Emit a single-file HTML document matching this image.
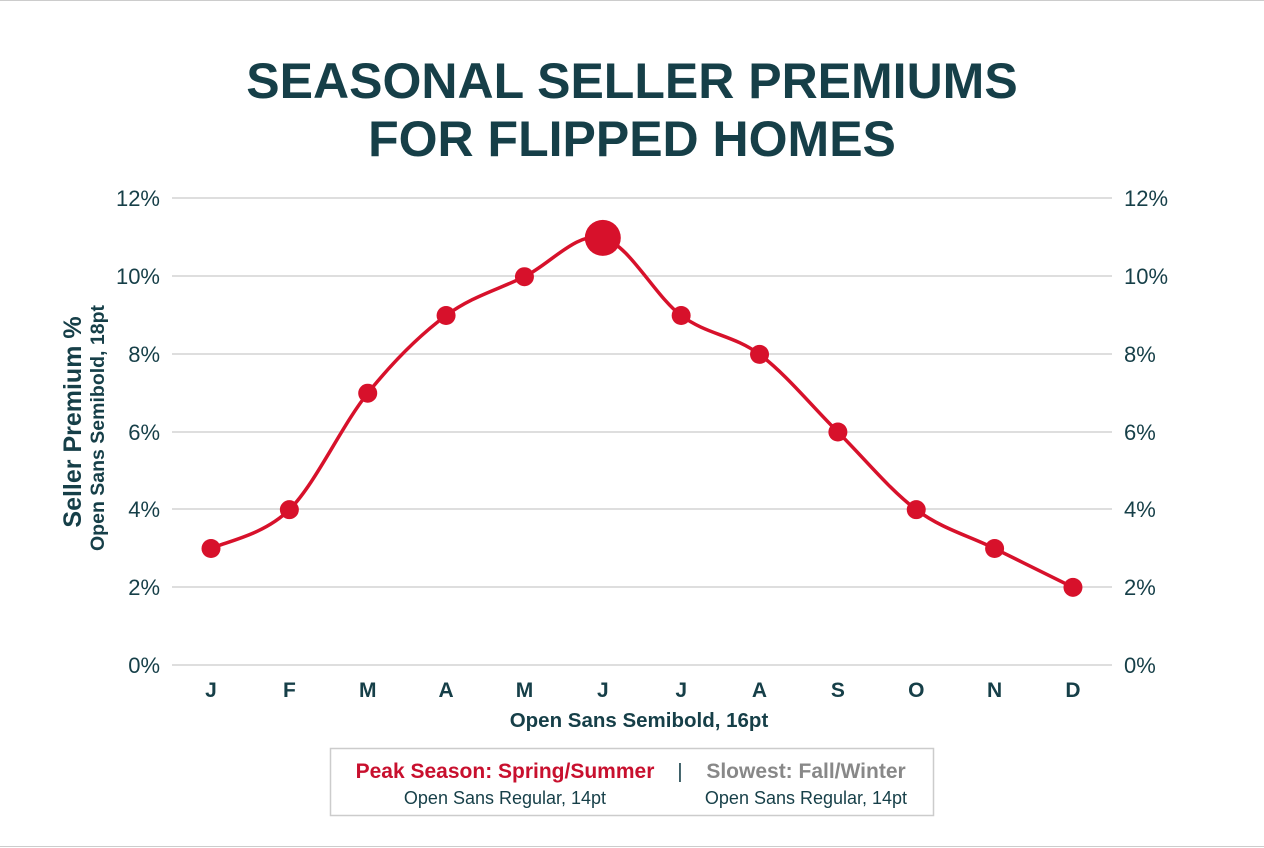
<!DOCTYPE html>
<html><head><meta charset="utf-8"><style>
html,body{margin:0;padding:0;background:#fff;}
svg{display:block;font-family:"Liberation Sans",sans-serif;}
</style></head><body>
<svg id="s" width="1264" height="848" viewBox="0 0 1264 848">
<rect x="0" y="0" width="1264" height="848" fill="#fff"/>
<line x1="0" y1="0.5" x2="1264" y2="0.5" stroke="#ccc"/>
<line x1="0" y1="846.5" x2="1264" y2="846.5" stroke="#ccc"/>
<g fill="#163f48" font-weight="bold" font-size="50" text-anchor="middle">
<text x="632" y="98">SEASONAL SELLER PREMIUMS</text>
<text x="632" y="156">FOR FLIPPED HOMES</text>
</g>
<g stroke="#d3d3d3" stroke-width="1.5">
<line x1="172" y1="198" x2="1112" y2="198"/>
<line x1="172" y1="276" x2="1112" y2="276"/>
<line x1="172" y1="354" x2="1112" y2="354"/>
<line x1="172" y1="432" x2="1112" y2="432"/>
<line x1="172" y1="509" x2="1112" y2="509"/>
<line x1="172" y1="587" x2="1112" y2="587"/>
<line x1="172" y1="665" x2="1112" y2="665"/>
</g>
<g fill="#163f48" font-size="22">
<g text-anchor="end">
<text x="160" y="206">12%</text><text x="160" y="284">10%</text><text x="160" y="362">8%</text>
<text x="160" y="440">6%</text><text x="160" y="517">4%</text><text x="160" y="595">2%</text><text x="160" y="673">0%</text>
</g>
<g text-anchor="start">
<text x="1124" y="206">12%</text><text x="1124" y="284">10%</text><text x="1124" y="362">8%</text>
<text x="1124" y="440">6%</text><text x="1124" y="517">4%</text><text x="1124" y="595">2%</text><text x="1124" y="673">0%</text>
</g>
</g>
<g fill="#163f48" font-weight="bold" font-size="21" text-anchor="middle" id="months"></g>
<text x="639" y="727" fill="#163f48" font-weight="bold" font-size="20.5" text-anchor="middle">Open Sans Semibold, 16pt</text>
<text transform="translate(81,422) rotate(-90)" fill="#163f48" font-weight="bold" font-size="25" text-anchor="middle">Seller Premium %</text>
<text transform="translate(104,428) rotate(-90)" fill="#163f48" font-weight="bold" font-size="19.5" text-anchor="middle">Open Sans Semibold, 18pt</text>
<path id="curve" fill="none" stroke="#d7112b" stroke-width="3.5"/>
<g id="dots" fill="#d7112b"></g>
<rect x="330.5" y="748.5" width="603" height="67" fill="#fff" stroke="#ccc" stroke-width="1.5"/>
<text x="505" y="778" fill="#c8102e" font-weight="bold" font-size="21" text-anchor="middle">Peak Season: Spring/Summer</text>
<text x="680" y="778" fill="#163f48" font-size="20" text-anchor="middle">|</text>
<text x="806" y="778" fill="#888" font-weight="bold" font-size="21" text-anchor="middle">Slowest: Fall/Winter</text>
<text x="505" y="804" fill="#163f48" font-size="18" text-anchor="middle">Open Sans Regular, 14pt</text>
<text x="806" y="804" fill="#163f48" font-size="18" text-anchor="middle">Open Sans Regular, 14pt</text>
</svg>
<script>
var v=[3,4,7,9,10,11,9,8,6,4,3,2],m="JFMAMJJASOND",ns="http://www.w3.org/2000/svg";
var p=v.map(function(a,i){return [211+78.36*i,665-38.83*a];});
var d="M"+p[0][0]+","+p[0][1];
for(var i=0;i<p.length-1;i++){var a=p[Math.max(i-1,0)],b=p[i],c=p[i+1],e=p[Math.min(i+2,p.length-1)];
d+=" C"+(b[0]+(c[0]-a[0])/6)+","+(b[1]+(c[1]-a[1])/6)+" "+(c[0]-(e[0]-b[0])/6)+","+(c[1]-(e[1]-b[1])/6)+" "+c[0]+","+c[1];}
document.getElementById("curve").setAttribute("d",d);
var g=document.getElementById("dots"),t=document.getElementById("months");
p.forEach(function(q,i){var c=document.createElementNS(ns,"circle");c.setAttribute("cx",q[0]);c.setAttribute("cy",q[1]);c.setAttribute("r",i==5?18:9.5);g.appendChild(c);
var x=document.createElementNS(ns,"text");x.setAttribute("x",q[0]);x.setAttribute("y",697);x.textContent=m[i];t.appendChild(x);});
</script>
</body></html>
